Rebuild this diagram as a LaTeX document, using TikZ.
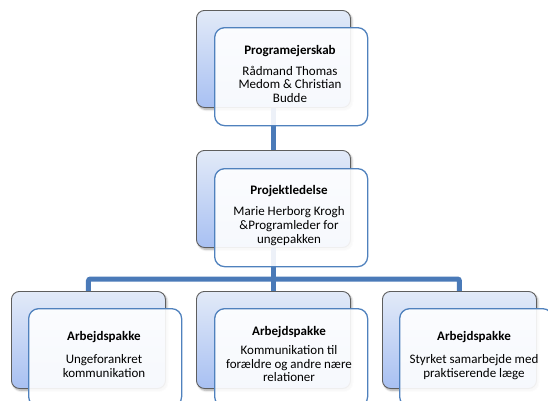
\documentclass[tikz,border=0pt]{standalone}
\usepackage{fontspec}
\setmainfont{Carlito}
\usetikzlibrary{shadows.blur}
\definecolor{conncol}{HTML}{4A7AB8}
\definecolor{frontline}{HTML}{4F81BD}
\definecolor{backtop}{HTML}{E2EAF8}
\definecolor{backbot}{HTML}{A8C0F2}
\definecolor{backline}{HTML}{5E5E5E}
\tikzset{
 backbox/.style={draw=backline, line width=0.9pt, rounded corners=8pt, top color=backtop, bottom color=backbot, minimum width=154pt, minimum height=97pt, anchor=north west, inner sep=0pt, blur shadow={shadow xshift=1.5pt, shadow yshift=-2pt, shadow blur steps=6, shadow opacity=35}},
 frontbox/.style={draw=frontline, line width=1.3pt, rounded corners=10pt, fill=white, fill opacity=0.9, minimum width=153pt, minimum height=98pt, anchor=north west, inner sep=0pt},
 txt/.style={align=center, anchor=base, font=\fontsize{13}{13.7}\selectfont, text=black, inner sep=0pt},
 connector/.style={draw=conncol, line width=5pt}
}
\begin{document}
\begin{tikzpicture}[x=1pt,y=-1pt]
\useasboundingbox (0,0) rectangle (548,400);
\clip (0,0) rectangle (548,400);
% back boxes
\node[backbox] (tb) at (196,10) {};
\node[backbox] (mb) at (196,150) {};
\node[backbox] (bl) at (11,291) {};
\node[backbox] (bm) at (196,291) {};
\node[backbox] (br) at (382,291) {};
% connectors
\coordinate (bus) at (273,279);
\draw[connector] (tb.south) -- (mb.north);
\draw[connector] (mb.south) -- (bm.north);
\draw[connector, rounded corners=2pt] (bl.north) |- (bus) -| (br.north);
% front boxes
\node[frontbox] (tf) at (214,27) {};
\node[frontbox] (mf) at (214,168) {};
\node[frontbox] (blf) at (28,308) {};
\node[frontbox] (bmf) at (214,308) {};
\node[frontbox] (brf) at (399,308) {};
% texts (anchor base = baseline of the last line)
\node[txt] (tt) at (290,102.5) {\textbf{Programejerskab}\\[7.2pt]Rådmand Thomas\\Medom \& Christian\\Budde};
\node[txt] (mt) at (289,243) {\textbf{Projektledelse}\\[7.4pt]Marie Herborg Krogh\\\&Programleder for\\ungepakken};
\node[txt] (blt) at (104,377) {\textbf{Arbejdspakke}\\[8.9pt]Ungeforankret\\kommunikation};
\node[txt] (bmt) at (289,381.7) {\textbf{Arbejdspakke}\\[5.5pt]Kommunikation til\\forældre og andre nære\\relationer};
\node[txt] (brt) at (474,377) {\textbf{Arbejdspakke}\\[8.9pt]Styrket samarbejde med\\praktiserende læge};
\end{tikzpicture}
\end{document}
